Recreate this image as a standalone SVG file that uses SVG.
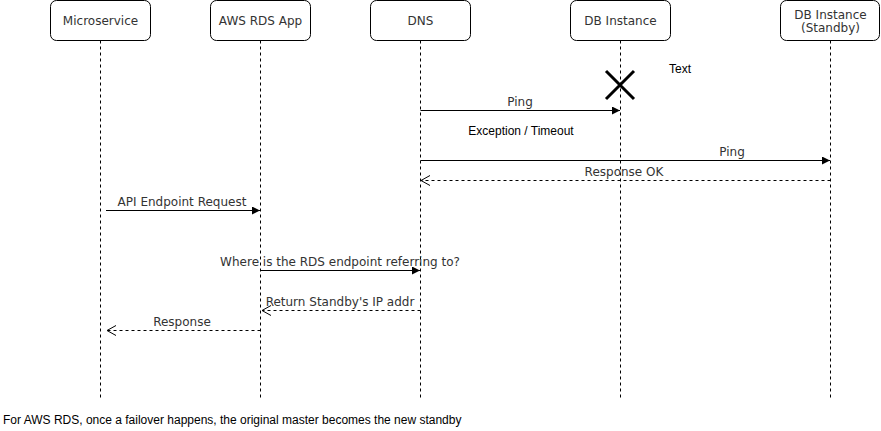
<svg xmlns="http://www.w3.org/2000/svg" width="881" height="431" viewBox="0 0 881 431">
<style>
.box{fill:#fff;stroke:#000;stroke-width:1}
.life{stroke:#000;stroke-width:1;stroke-dasharray:3 3;fill:none}
.t{font-family:"DejaVu Sans",Verdana,sans-serif;font-size:12px;fill:#333;text-anchor:middle}
.a{font-family:"Liberation Sans",Arial,sans-serif;font-size:12px;fill:#000}
.msg{stroke:#000;stroke-width:1;fill:none}
.ret{stroke:#000;stroke-width:1;fill:none;stroke-dasharray:3 3}
</style>
<defs>
<marker id="fill" markerWidth="10" markerHeight="10" refX="8" refY="4" orient="auto" markerUnits="userSpaceOnUse">
<path d="M0,0 L8,4 L0,8 Z" fill="#000"/>
</marker>
<marker id="open" markerWidth="12" markerHeight="12" refX="9" refY="5" orient="auto" markerUnits="userSpaceOnUse">
<path d="M0,0 L9,5 L0,10" fill="none" stroke="#000"/>
</marker>
</defs>
<rect width="881" height="431" fill="#fff"/>
<g id="microservice">
<rect class="box" x="50.5" y="0.5" width="100" height="40" rx="6"/>
<line class="life" x1="100.5" y1="40.5" x2="100.5" y2="398"/>
<text class="t" x="100.5" y="25">Microservice</text>
</g>
<g id="aws-rds-app">
<rect class="box" x="210.5" y="0.5" width="100" height="40" rx="6"/>
<line class="life" x1="260.5" y1="40.5" x2="260.5" y2="398"/>
<text class="t" x="260.5" y="25">AWS RDS App</text>
</g>
<g id="dns">
<rect class="box" x="370.5" y="0.5" width="100" height="40" rx="6"/>
<line class="life" x1="420.5" y1="40.5" x2="420.5" y2="398"/>
<text class="t" x="420.5" y="25">DNS</text>
</g>
<g id="db-instance">
<rect class="box" x="570.5" y="0.5" width="100" height="40" rx="6"/>
<line class="life" x1="620.5" y1="40.5" x2="620.5" y2="398"/>
<text class="t" x="620.5" y="25">DB Instance</text>
</g>
<g id="db-standby">
<rect class="box" x="780.5" y="0.5" width="99" height="40" rx="6"/>
<line class="life" x1="830.5" y1="40.5" x2="830.5" y2="398"/>
<text class="t" x="830.5" y="19">DB Instance</text>
<text class="t" x="830.5" y="32">(Standby)</text>
</g>
<g id="destroy">
<path d="M606,71 L634,99 M634,71 L606,99" stroke="#000" stroke-width="3" fill="none"/>
</g>
<g id="connectors">
<line class="msg" x1="420.5" y1="110.5" x2="620" y2="110.5" marker-end="url(#fill)"/>
<text class="t" x="520" y="106">Ping</text>
<line class="msg" x1="420.5" y1="160.5" x2="830" y2="160.5" marker-end="url(#fill)"/>
<text class="t" x="732" y="156">Ping</text>
<line class="ret" x1="830.5" y1="180.5" x2="421" y2="180.5" marker-end="url(#open)"/>
<text class="t" x="624" y="176">Response OK</text>
<line class="msg" x1="106" y1="210.5" x2="260" y2="210.5" marker-end="url(#fill)"/>
<text class="t" x="182" y="206">API Endpoint Request</text>
<line class="msg" x1="260.5" y1="270.5" x2="420" y2="270.5" marker-end="url(#fill)"/>
<text class="t" x="340" y="266">Where is the RDS endpoint referring to?</text>
<line class="ret" x1="420.5" y1="310.5" x2="262" y2="310.5" marker-end="url(#open)"/>
<text class="t" x="340" y="306">Return Standby's IP addr</text>
<line class="ret" x1="260.5" y1="330.5" x2="107" y2="330.5" marker-end="url(#open)"/>
<text class="t" x="182" y="326">Response</text>
</g>
<text class="a" x="521" y="135" text-anchor="middle">Exception / Timeout</text>
<text class="a" x="669" y="73">Text</text>
<text class="a" x="3" y="424">For AWS RDS, once a failover happens, the original master becomes the new standby</text>
</svg>
